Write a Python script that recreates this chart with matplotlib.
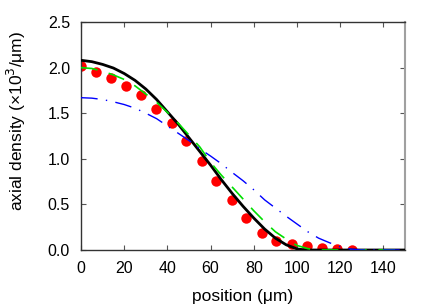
import matplotlib

matplotlib.use("Agg")
import matplotlib.pyplot as plt

plt.rcParams["font.family"] = ["Liberation Sans", "DejaVu Sans"]

# measured points (red dots)
dot_x = [0, 7.0, 14.0, 21.0, 27.9, 34.9, 41.9, 48.8, 55.8, 62.7, 69.7, 76.6,
         83.6, 90.5, 97.5, 104.4, 111.4, 118.3, 125.3]
dot_y = [2.02, 1.955, 1.89, 1.80, 1.70, 1.55, 1.39, 1.20, 0.98, 0.76, 0.545,
         0.35, 0.19, 0.10, 0.066, 0.047, 0.022, 0.011, 0.005]

# black solid curve
black_x = [0, 5, 10, 15, 20, 25, 30, 35, 40, 45, 50, 55, 60, 65, 70, 75, 80,
           85, 90, 95, 100, 104, 150]
black_y = [2.08, 2.065, 2.035, 1.995, 1.935, 1.86, 1.765, 1.65, 1.515, 1.38,
           1.23, 1.08, 0.93, 0.77, 0.62, 0.48, 0.35, 0.23, 0.13, 0.057, 0.012,
           0.0, 0.0]

# green dashed curve
green_x = [0, 5, 10, 15, 20, 25, 30, 35, 40, 45, 50, 55, 60, 65, 70, 75, 80,
           85, 90, 95, 100, 105, 110, 150]
green_y = [2.00, 1.99, 1.96, 1.92, 1.87, 1.80, 1.71, 1.62, 1.51, 1.39, 1.26,
           1.13, 0.96, 0.82, 0.69, 0.56, 0.43, 0.31, 0.20, 0.12, 0.05, 0.015,
           0.0, 0.0]

# blue dash-dot curve
blue_x = [0, 5, 10, 15, 20, 25, 30, 35, 40, 45, 50, 55, 60, 65, 70, 75, 80,
          85, 90, 95, 100, 105, 110, 115, 120, 125, 130, 150]
blue_y = [1.67, 1.665, 1.65, 1.625, 1.595, 1.555, 1.50, 1.44, 1.36, 1.28, 1.20,
          1.11, 1.03, 0.945, 0.85, 0.76, 0.66, 0.55, 0.46, 0.37, 0.285, 0.20,
          0.13, 0.08, 0.035, 0.01, 0.0, 0.0]

x_ticks = [0, 20, 40, 60, 80, 100, 120, 140]
y_ticks = [0.0, 0.5, 1.0, 1.5, 2.0, 2.5]

fig = plt.figure(figsize=(4.36, 3.05), dpi=100)
ax = fig.add_axes([0.1858, 0.1803, 0.7431, 0.7476])

ax.plot(dot_x, dot_y, "o", color="#ff0000", ms=7.5, mec="none", zorder=2)
ax.plot(black_x, black_y, "-", color="black", lw=2.0, zorder=3)
ax.plot(green_x, green_y, color="#00e000", lw=1.2, dashes=(10, 7), zorder=4)
ax.plot(blue_x, blue_y, color="#0000ff", lw=1.0, dashes=(12, 6, 1, 6), zorder=5)

ax.set_xlim(0, 150)
ax.set_ylim(0, 2.5)
ax.set_xticks(x_ticks)
ax.set_yticks(y_ticks)
ax.set_yticklabels([f"{v:.1f}" for v in y_ticks])
ax.tick_params(direction="in", top=True, right=True, length=3.5, width=0.8,
               color="#555555", labelsize=11.5, pad=8)

for side in ["left", "bottom", "top"]:
    ax.spines[side].set_color("#333333")
    ax.spines[side].set_linewidth(1.0)
ax.spines["right"].set_color("#a0a0a0")
ax.spines["right"].set_linewidth(1.5)

ax.set_xlabel("position (\u03bcm)", fontsize=12.5, labelpad=9)
ax.set_ylabel("axial density (\u00d710$^3$/\u03bcm)", fontsize=12.5)
ax.yaxis.set_label_coords(-0.165, 0.565)

fig.savefig("out.png", dpi=100)
